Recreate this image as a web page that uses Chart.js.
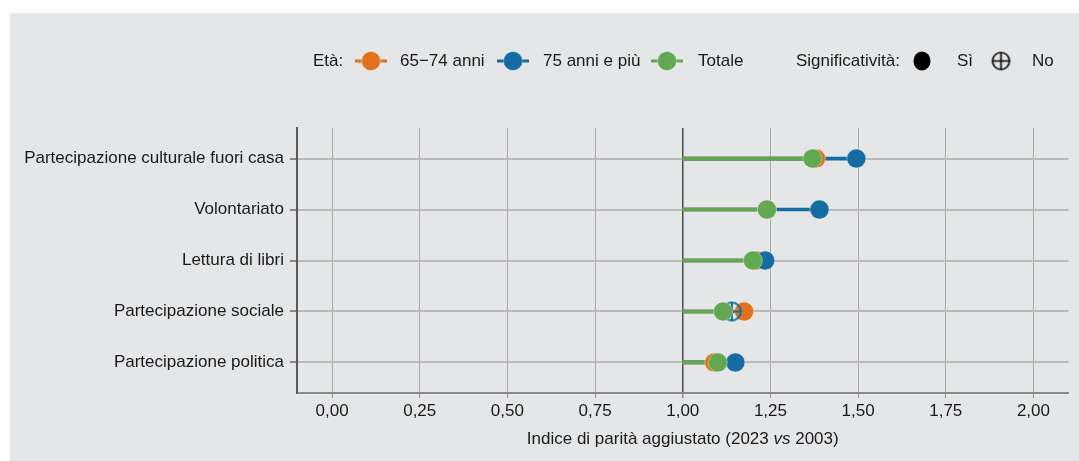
<!DOCTYPE html>
<html lang="it">
<head>
    <meta charset="UTF-8">
    <title>Indice di parità aggiustato</title>
    <script src="https://cdn.jsdelivr.net/npm/chart.js"></script>
    <style>
        body { margin: 0; background: #ffffff; }
    </style>
</head>
<body>
    <canvas id="parityChart" width="1079" height="461"></canvas>

    <script>
        // Data
        const categories = [
            'Partecipazione culturale fuori casa',
            'Volontariato',
            'Lettura di libri',
            'Partecipazione sociale',
            'Partecipazione politica'
        ];
        const eta6574 = [1.38, 1.24, 1.21, 1.175, 1.09];
        const eta75 = [1.495, 1.39, 1.235, 1.14, 1.15];
        const totale = [1.37, 1.24, 1.20, 1.115, 1.10];
        const sig6574 = [true, true, true, true, true];
        const sig75 = [true, true, true, false, true];
        const sigTotale = [true, true, true, true, true];
        const xTicks = [0, 0.25, 0.5, 0.75, 1, 1.25, 1.5, 1.75, 2];

        const ORANGE = '#E2711D';
        const BLUE = '#146CA3';
        const GREEN = '#62A852';
        const FONT = '"Liberation Sans", Arial, sans-serif';
        const FS = 17;

        // crossed circle marker for non significant values
        function crossedCircle(color, r, lw) {
            const c = document.createElement('canvas');
            const size = Math.ceil(r * 2 + lw + 2);
            c.width = size; c.height = size;
            const g = c.getContext('2d');
            const m = size / 2;
            g.strokeStyle = color;
            g.lineWidth = lw;
            g.beginPath();
            g.arc(m, m, r, 0, Math.PI * 2);
            g.stroke();
            g.beginPath();
            g.moveTo(m - r, m); g.lineTo(m + r, m);
            g.moveTo(m, m - r); g.lineTo(m, m + r);
            g.stroke();
            return c;
        }

        function segments(values) {
            return values.map((v, i) => ({ y: i + 1, x: [1, v] }));
        }
        function points(values) {
            return values.map((v, i) => ({ y: i + 1, x: v }));
        }
        function styles(sig, color) {
            const hollow = crossedCircle(color, 9, 2);
            return sig.map(s => s ? 'circle' : hollow);
        }

        const bgPlugin = {
            id: 'panel',
            beforeDraw(chart) {
                const ctx = chart.ctx;
                ctx.save();
                ctx.fillStyle = '#E5E6E8';
                ctx.fillRect(10, 13, chart.width - 10, chart.height - 13);
                ctx.restore();
            }
        };

        const legendPlugin = {
            id: 'customLegend',
            afterDraw(chart) {
                const ctx = chart.ctx;
                ctx.save();
                ctx.font = FS + 'px ' + FONT;
                ctx.fillStyle = '#1a1a1a';
                ctx.textBaseline = 'middle';
                const y = 61;
                ctx.fillText('Età:', 313, y);

                const items = [
                    { c: ORANGE, x: 371, label: '65\u221274 anni', lx: 400 },
                    { c: BLUE, x: 513, label: '75 anni e più', lx: 543 },
                    { c: GREEN, x: 667, label: 'Totale', lx: 698 }
                ];
                items.forEach(it => {
                    ctx.strokeStyle = it.c;
                    ctx.lineWidth = 3;
                    ctx.beginPath();
                    ctx.moveTo(it.x - 16, y); ctx.lineTo(it.x + 16, y);
                    ctx.stroke();
                    ctx.fillStyle = it.c;
                    ctx.beginPath();
                    ctx.arc(it.x, y, 9.5, 0, Math.PI * 2);
                    ctx.fill();
                    ctx.strokeStyle = 'rgba(255,255,255,0.35)';
                    ctx.lineWidth = 1;
                    ctx.stroke();
                    ctx.fillStyle = '#1a1a1a';
                    ctx.fillText(it.label, it.lx, y);
                });

                ctx.fillText('Significatività:', 796, y);
                ctx.fillStyle = '#000';
                ctx.beginPath();
                ctx.ellipse(922, y, 8.5, 9.5, 0, 0, Math.PI * 2);
                ctx.fill();
                ctx.fillStyle = '#1a1a1a';
                ctx.fillText('Sì', 957, y);
                ctx.drawImage(crossedCircle('#000', 8.5, 1.6), 1001 - 10.5, y - 10.5);
                ctx.fillText('No', 1032, y);

                // x axis title with italic "vs"
                const a = chart.chartArea;
                const p1 = 'Indice di parità aggiustato (2023 ';
                const p2 = 'vs';
                const p3 = ' 2003)';
                ctx.font = FS + 'px ' + FONT;
                const w1 = ctx.measureText(p1).width;
                const w3 = ctx.measureText(p3).width;
                ctx.font = 'italic ' + FS + 'px ' + FONT;
                const w2 = ctx.measureText(p2).width;
                let tx = (a.left + a.right) / 2 - (w1 + w2 + w3) / 2;
                const ty = 439;
                ctx.fillStyle = '#1a1a1a';
                ctx.font = FS + 'px ' + FONT;
                ctx.fillText(p1, tx, ty); tx += w1;
                ctx.font = 'italic ' + FS + 'px ' + FONT;
                ctx.fillText(p2, tx, ty); tx += w2;
                ctx.font = FS + 'px ' + FONT;
                ctx.fillText(p3, tx, ty);
                ctx.restore();
            }
        };

        const pointBase = {
            type: 'scatter',
            pointRadius: 9.5,
            pointHoverRadius: 9.5,
            pointBorderWidth: 1,
            pointBorderColor: 'rgba(255,255,255,0.35)'
        };
        const barBase = {
            type: 'bar',
            indexAxis: 'y',
            barThickness: 3,
            grouped: false,
            borderWidth: 0
        };

        const ctx = document.getElementById('parityChart').getContext('2d');
        const parityChart = new Chart(ctx, {
            type: 'bar',
            data: {
                datasets: [
                    Object.assign({}, barBase, { label: '65-74 seg', data: segments(eta6574), backgroundColor: ORANGE, order: 6 }),
                    Object.assign({}, barBase, { label: '75+ seg', data: segments(eta75), backgroundColor: BLUE, order: 5 }),
                    Object.assign({}, barBase, { label: 'Totale seg', data: segments(totale), backgroundColor: GREEN, order: 4 }),
                    Object.assign({}, pointBase, { label: '65-74 anni', data: points(eta6574), backgroundColor: ORANGE, pointStyle: styles(sig6574, ORANGE), order: 3 }),
                    Object.assign({}, pointBase, { label: '75 anni e più', data: points(eta75), backgroundColor: BLUE, pointStyle: styles(sig75, BLUE), order: 2 }),
                    Object.assign({}, pointBase, { label: 'Totale', data: points(totale), backgroundColor: GREEN, pointStyle: styles(sigTotale, GREEN), order: 1 })
                ]
            },
            options: {
                responsive: false,
                animation: false,
                layout: { padding: { left: 10, top: 128, right: 10, bottom: 0 } },
                plugins: {
                    legend: { display: false },
                    tooltip: { enabled: false }
                },
                scales: {
                    x: {
                        type: 'linear',
                        offset: false,
                        min: -0.1,
                        max: 2.1,
                        afterBuildTicks: s => { s.ticks = xTicks.map(v => ({ value: v })); },
                        afterFit: s => { s.height = 68; },
                        ticks: {
                            padding: 3,
                            color: '#1a1a1a',
                            font: { family: FONT, size: FS },
                            callback: v => v.toFixed(2).replace('.', ',')
                        },
                        grid: {
                            offset: false,
                            color: c => (c.tick && c.tick.value === 1) ? '#4a4a4a' : '#A8A8A8',
                            lineWidth: c => (c.tick && c.tick.value === 1) ? 1.5 : 1,
                            tickLength: 5,
                            tickColor: '#8a8a8a'
                        },
                        border: { color: '#8a8a8a', width: 2 }
                    },
                    y: {
                        type: 'linear',
                        offset: false,
                        reverse: true,
                        min: 0.4,
                        max: 5.6,
                        afterBuildTicks: s => { s.ticks = categories.map((c, i) => ({ value: i + 1 })); },
                        afterFit: s => { s.width = 287; },
                        ticks: {
                            padding: 6,
                            color: '#1a1a1a',
                            font: { family: FONT, size: FS },
                            callback: v => categories[v - 1]
                        },
                        grid: {
                            offset: false,
                            color: '#B9B9B9',
                            lineWidth: 2,
                            tickLength: 7,
                            tickColor: '#8a8a8a'
                        },
                        border: { color: '#5a5a5a', width: 2 }
                    }
                }
            },
            plugins: [bgPlugin, legendPlugin]
        });
    </script>
</body>
</html>
